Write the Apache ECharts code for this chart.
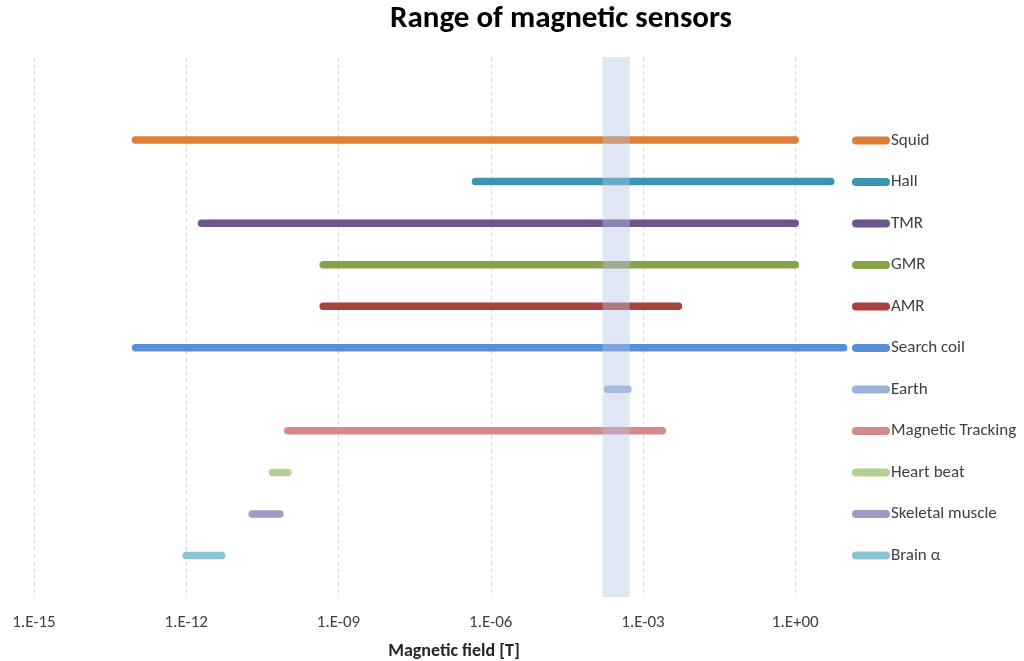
<!DOCTYPE html>
<html>
<head>
<meta charset="utf-8">
<script src="https://cdn.jsdelivr.net/npm/echarts@6/dist/echarts.min.js"></script>
<style>html,body{margin:0;padding:0;background:#fff}#c{width:1024px;height:661px}</style>
</head>
<body>
<div id="c"></div>
<script>
const categories = ['Squid','Hall','TMR','GMR','AMR','Search coil','Earth','Magnetic Tracking','Heart beat','Skeletal muscle','Brain α'];
const rangeMin = [1e-13, 5e-7, 2e-12, 5e-10, 5e-10, 1e-13, 2e-4, 1e-10, 5e-11, 2e-11, 1e-12];
const rangeMax = [1, 5, 1, 1, 5e-3, 9, 5e-4, 2.4e-3, 1e-10, 7e-11, 5e-12];
const rowPos = [11, 10, 9, 8, 7, 6, 5, 4, 3, 2, 1];
const colors = ['#DE7F38','#3B95AE','#6E558E','#86A34A','#A9423E','#568FD6','#9BB2D8','#D48A8A','#B5CE94','#A697C3','#8DC3D6'];
const earthBand = [1.6e-4, 5.5e-4];
const xMin = 1e-15, xMax = 10;
const yMin = 0, yMax = 13;

const FONT = 'Carlito, "Open Sans", "Noto Sans", sans-serif';
const chart = echarts.init(document.getElementById('c'), null, {renderer: 'canvas'});

function fmt(v) {
  const e = Math.round(Math.log10(v));
  const a = Math.abs(e);
  return '1.E' + (e < 0 ? '-' : '+') + (a < 10 ? '0' + a : '' + a);
}

const series = categories.map((name, i) => ({
  name: name,
  type: 'line',
  z: 2,
  data: [[rangeMin[i], rowPos[i]], [rangeMax[i], rowPos[i]]],
  showSymbol: false,
  symbol: 'none',
  silent: true,
  animation: false,
  color: colors[i],
  lineStyle: {width: 7.5, color: colors[i], cap: 'round'}
}));
series.push({
  name: 'band',
  type: 'custom',
  z: 10,
  silent: true,
  animation: false,
  encode: {x: [0, 1], y: [2, 3]},
  data: [[earthBand[0], earthBand[1], yMin, yMax]],
  renderItem: function (params, api) {
    const p0 = api.coord([api.value(0), api.value(3)]);
    const p1 = api.coord([api.value(1), api.value(2)]);
    return {
      type: 'rect',
      shape: {x: p0[0], y: p0[1], width: p1[0] - p0[0], height: p1[1] - p0[1]},
      style: {fill: 'rgba(178,197,232,0.42)'}
    };
  }
});

chart.setOption({
  animation: false,
  backgroundColor: '#ffffff',
  graphic: [{
    type: 'text', x: 561, y: 19, z: 100,
    style: {text: 'Range of magnetic sensors', font: 'bold 31px ' + FONT, fill: '#000', align: 'center', verticalAlign: 'middle'}
  }],
  grid: {left: 34, right: 178, top: 57, bottom: 64, containLabel: false, outerBoundsMode: 'none'},
  xAxis: {
    type: 'log', logBase: 10, min: xMin, max: xMax, interval: 3,
    name: 'Magnetic field [T]', nameLocation: 'middle', nameGap: 45,
    nameTextStyle: {fontFamily: FONT, fontWeight: 'bold', fontSize: 18, color: '#262626', padding: [0, 0, 0, 28]},
    axisLine: {show: false}, axisTick: {show: false},
    axisLabel: {formatter: fmt, fontFamily: FONT, fontSize: 17, color: '#404040', margin: 17, showMaxLabel: false},
    splitLine: {show: true, showMaxLine: false, lineStyle: {color: '#d9d9d9', type: [4, 3], width: 1}}
  },
  yAxis: {
    type: 'value', min: yMin, max: yMax, interval: 1, show: false,
    splitLine: {show: false}
  },
  legend: {
    orient: 'vertical', left: 852, top: 132, padding: 0,
    itemWidth: 38, itemHeight: 17, itemGap: 24.5,
    icon: 'path://M4,0 L34,0 A4,4 0 0 1 34,8 L4,8 A4,4 0 0 1 4,0 Z',
    data: categories,
    selectedMode: false,
    textStyle: {fontFamily: FONT, fontSize: 17, color: '#404040', lineHeight: 17, padding: [0, 0, 0, -4]}
  },
  series: series
});
</script>
</body>
</html>
